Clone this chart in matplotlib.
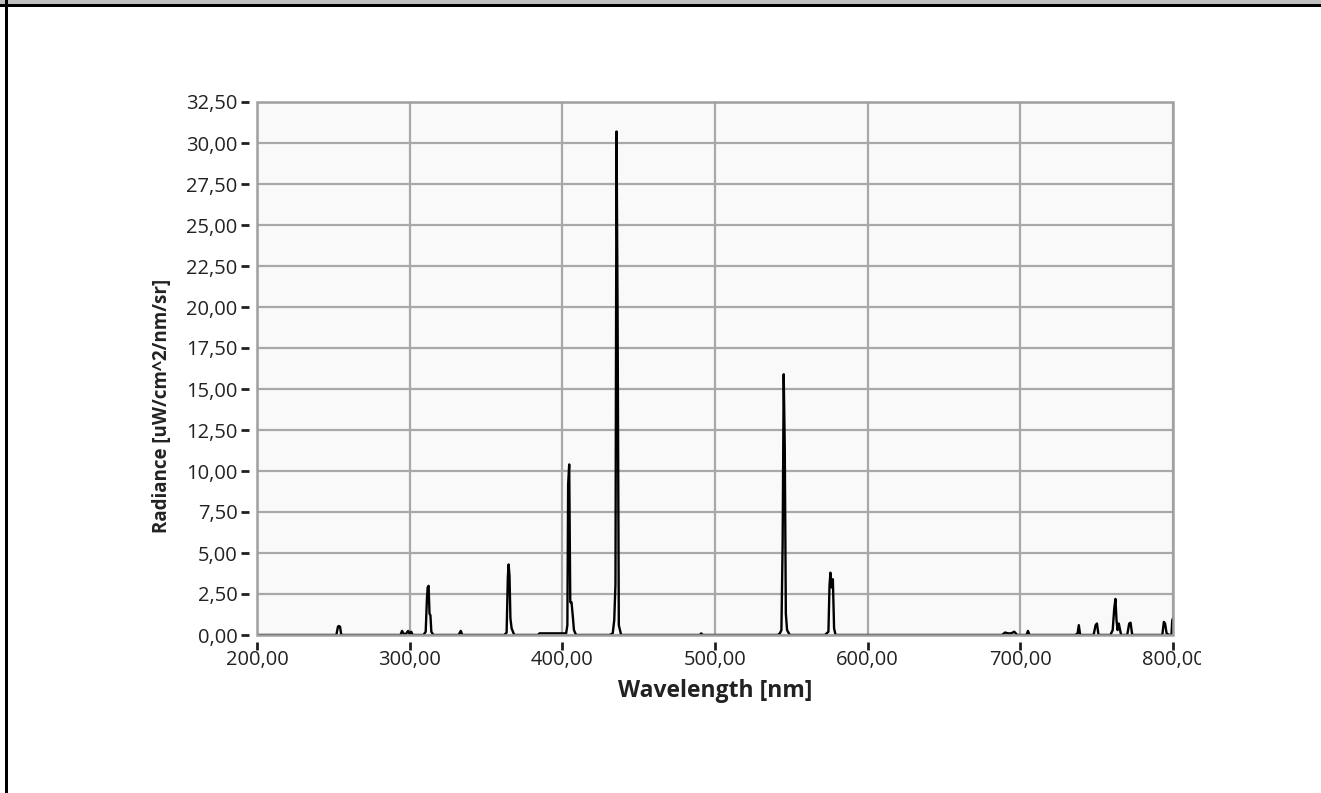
# spectrum plot, LabVIEW style
import numpy as np
from matplotlib import pyplot as plt
from matplotlib.patches import Rectangle
from matplotlib.ticker import FuncFormatter

# data (nm, uW/cm^2/nm/sr)
wavelength = [200, 252, 253, 253.6, 254.4, 255.2, 256,
              294, 295, 296, 297, 299, 300, 301, 302,
              309, 310.5, 311.3, 311.8, 312.4, 313, 313.6, 314.2, 315.5,
              332, 333.5, 334.5,
              362, 363.5, 364.3, 364.8, 365.4, 366, 366.8, 368.5,
              384, 385, 390, 400,
              401.5, 402.5, 403.3, 403.8, 404.5, 405.2, 406, 406.8, 407.6, 409,
              431, 433, 434, 434.8, 435.5, 436.2, 437, 438.5,
              490, 491, 492,
              541, 542.5, 543.5, 544.3, 545, 545.7, 546.4, 547.2, 549,
              572, 574.3, 575, 575.6, 576.4, 577.2, 578, 579,
              688, 690, 692, 694, 696, 698, 704, 705, 706,
              736, 737.5, 738.3, 739.2, 748, 749.3, 750.2, 751.2,
              759, 760.5, 761.5, 762.3, 763, 763.7, 764.5, 766,
              770, 771.3, 772.2, 773.3, 793, 794, 794.8, 795.8, 797.5,
              799, 799.5, 800]
radiance = [0.0, 0.0, 0.5, 0.55, 0.5, 0.0, 0.0,
            0.0, 0.25, 0.1, 0.0, 0.25, 0.05, 0.2, 0.0,
            0.0, 0.2, 2.2, 2.9, 3.0, 1.3, 1.2, 0.2, 0.0,
            0.0, 0.25, 0.0,
            0.0, 0.15, 3.5, 4.3, 3.6, 1.0, 0.4, 0.0,
            0.0, 0.1, 0.1, 0.1,
            0.1, 0.1, 0.6, 9.2, 10.4, 2.0, 2.0, 1.2, 0.3, 0.0,
            0.0, 0.1, 0.9, 3.1, 30.7, 19.5, 0.6, 0.0,
            0.0, 0.1, 0.0,
            0.0, 0.1, 0.3, 5.5, 15.9, 11.4, 1.3, 0.3, 0.0,
            0.0, 0.2, 3.0, 3.8, 2.9, 3.4, 0.4, 0.0,
            0.0, 0.15, 0.1, 0.1, 0.2, 0.0, 0.0, 0.25, 0.0,
            0.0, 0.1, 0.6, 0.0, 0.0, 0.6, 0.7, 0.0,
            0.0, 0.3, 1.6, 2.2, 0.9, 0.3, 0.7, 0.0,
            0.0, 0.7, 0.75, 0.0, 0.0, 0.8, 0.7, 0.1, 0.0,
            0.0, 0.9, 1.0]

xticks = [200, 300, 400, 500, 600, 700, 800]
yticks = [0, 2.5, 5, 7.5, 10, 12.5, 15, 17.5, 20, 22.5, 25, 27.5, 30, 32.5]

plt.rcParams['font.family'] = ['Open Sans', 'DejaVu Sans']

fig = plt.figure(figsize=(13.21, 7.93), dpi=100)
fig.patch.set_facecolor('white')
ax = fig.add_axes([257/1321, 1 - 635/793, 916/1321, 533/793])

# window frame bits
fig.add_artist(Rectangle((0, 1 - 4/793), 1, 4/793, transform=fig.transFigure,
                         facecolor='#c0c0c0', edgecolor='none'))
fig.add_artist(Rectangle((0, 1 - 6.5/793), 1, 2.5/793, transform=fig.transFigure,
                         facecolor='black', edgecolor='none'))
fig.add_artist(Rectangle((5/1321, 0), 2.5/1321, 1, transform=fig.transFigure,
                         facecolor='black', edgecolor='none'))

ax.set_facecolor('#f9f9f9')
ax.plot(wavelength, radiance, color='black', lw=1.7)

ax.set_xlim(200, 800)
ax.set_ylim(0, 32.5)
ax.set_xticks(xticks)
ax.set_yticks(yticks)
fmt = FuncFormatter(lambda v, p: f"{v:.2f}".replace('.', ','))
ax.xaxis.set_major_formatter(fmt)
ax.yaxis.set_major_formatter(fmt)
ax.grid(True, color='#a8a8a8', lw=1.6)
ax.set_axisbelow(True)

# scales sit a bit away from the plot frame
ax.spines['left'].set_position(('outward', 6))
ax.spines['bottom'].set_position(('outward', 5))
for s in ax.spines.values():
    s.set_color('none')
ax.add_patch(Rectangle((0, 0), 1, 1, transform=ax.transAxes, fill=False,
                       edgecolor='#a0a0a0', lw=1.8, clip_on=False, zorder=3))
ax.tick_params(direction='out', length=6, width=2, color='#202020',
               labelsize=14.5, labelcolor='#222222')
ax.tick_params(axis='y', pad=2)
ax.tick_params(axis='x', pad=0)

ax.set_xlabel("Wavelength [nm]", fontsize=16.5, fontweight='bold', color='#222222')
ax.xaxis.set_label_coords(0.5, -0.083)
ax.set_ylabel("Radiance [uW/cm^2/nm/sr]", fontsize=13.5, fontweight='bold', color='#222222')
ax.yaxis.set_label_coords(-0.093, 0.43)

# the graph control cuts the last x label off
fig.canvas.draw()
clip = Rectangle((0, 0), 1201/1321, 1, transform=fig.transFigure)
for lbl in ax.get_xticklabels():
    lbl.set_clip_path(clip)

fig.savefig("out.png", dpi=100)
